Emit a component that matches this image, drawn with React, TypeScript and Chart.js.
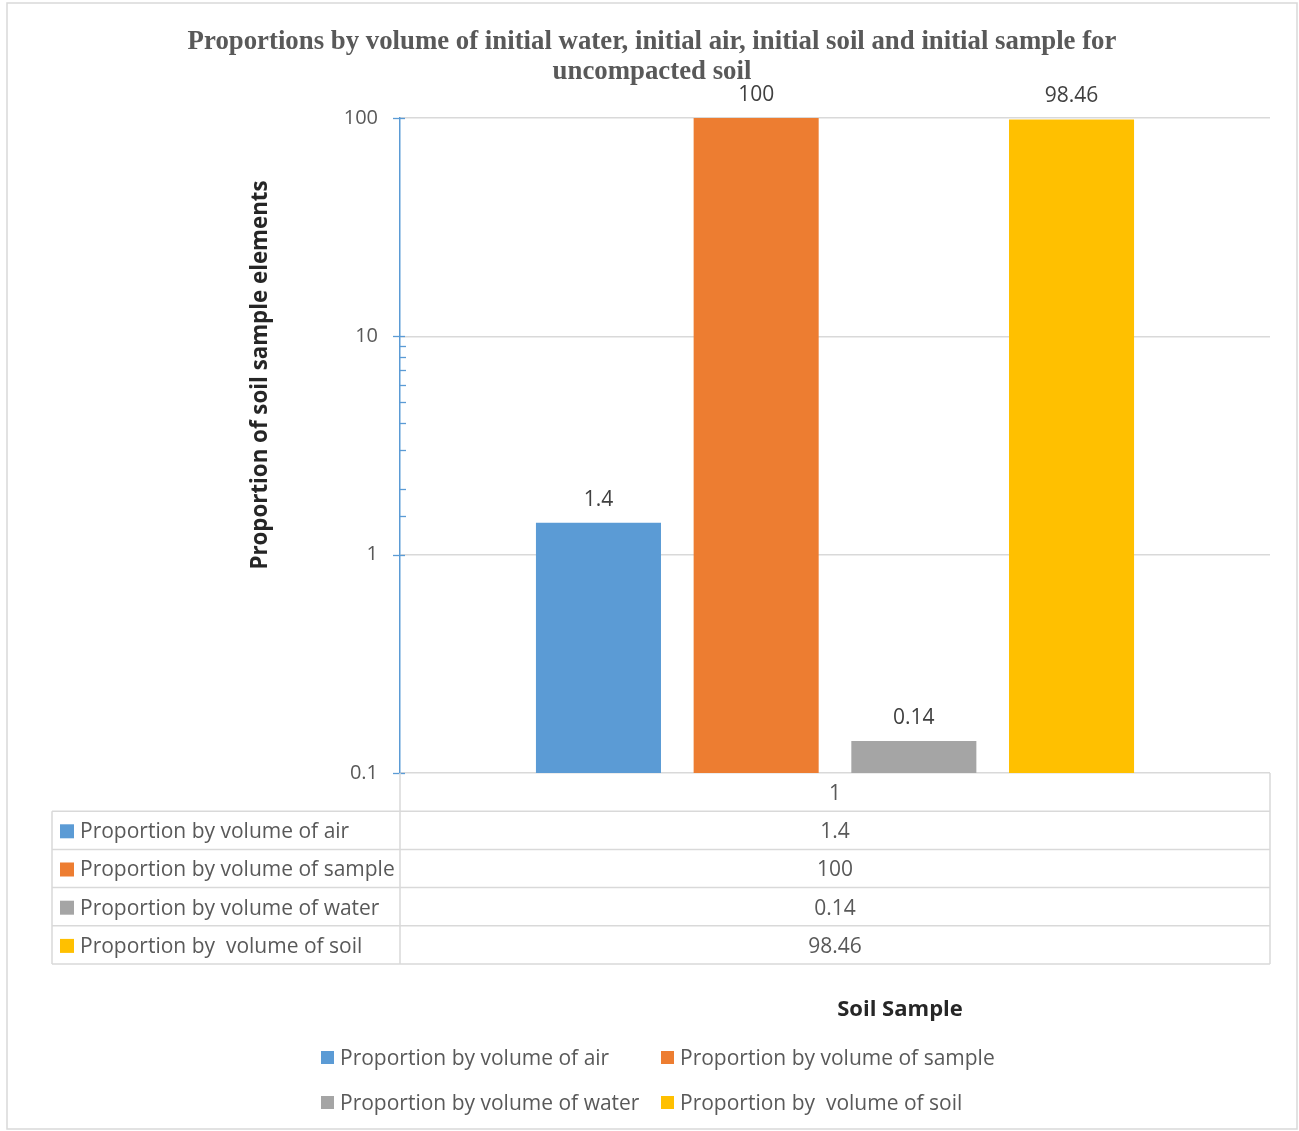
import React, { useEffect, useRef } from "react";
import { Chart, registerables } from "chart.js";

Chart.register(...registerables);

const TITLE_LINES = [
  "Proportions by volume of initial water, initial air, initial soil and initial sample for",
  "uncompacted soil",
];
const CATEGORIES = ["1"];
const SERIES_NAMES = [
  "Proportion by volume of air",
  "Proportion by volume of sample",
  "Proportion by volume of water",
  "Proportion by  volume of soil",
];
const SERIES_VALUES = [[1.4], [100], [0.14], [98.46]];
const VALUE_LABELS = ["1.4", "100", "0.14", "98.46"];
const SERIES_COLORS = ["#5B9BD5", "#ED7D31", "#A5A5A5", "#FFC000"];
const Y_TITLE = "Proportion of soil sample elements";
const X_TITLE = "Soil Sample";
const Y_MIN = 0.1;
const Y_MAX = 100;
const MINOR_TICK_RANGE = [1, 10];

const SANS = '"Open Sans", "Noto Sans", sans-serif';
const SERIF = '"Liberation Serif", "Times New Roman", serif';

const isMajor = (v: number) => {
  const l = Math.log10(v);
  return Math.abs(l - Math.round(l)) < 1e-9;
};

const decorPlugin = {
  id: "decor",
  afterDraw(chart: any) {
    const ctx = chart.ctx as CanvasRenderingContext2D;
    const area = chart.chartArea;
    const yScale = chart.scales.y;
    ctx.save();

    // outer border
    ctx.strokeStyle = "#D9D9D9";
    ctx.lineWidth = 1.5;
    ctx.strokeRect(7, 3, 1290, 1126);

    // title
    ctx.fillStyle = "#595959";
    ctx.font = `bold 26.8px ${SERIF}`;
    ctx.textAlign = "center";
    ctx.textBaseline = "middle";
    ctx.fillText(TITLE_LINES[0], 652, 42);
    ctx.fillText(TITLE_LINES[1], 652, 72);

    // y title
    ctx.save();
    ctx.translate(261, 375);
    ctx.rotate(-Math.PI / 2);
    ctx.fillStyle = "#262626";
    ctx.font = `bold 22.3px ${SANS}`;
    ctx.fillText(Y_TITLE, 0, 0);
    ctx.restore();

    // ticks on axis
    ctx.strokeStyle = "#5B9BD5";
    ctx.lineWidth = 1.3;
    yScale.ticks.forEach((t: any) => {
      const py = Math.round(yScale.getPixelForValue(t.value)) + 0.5;
      ctx.beginPath();
      if (isMajor(t.value)) {
        ctx.moveTo(area.left - 7, py);
        ctx.lineTo(area.left + 5, py);
      } else if (t.value > MINOR_TICK_RANGE[0] && t.value < MINOR_TICK_RANGE[1]) {
        ctx.moveTo(area.left, py);
        ctx.lineTo(area.left + 6, py);
      }
      ctx.stroke();
    });

    // data labels
    ctx.fillStyle = "#404040";
    ctx.font = `21px ${SANS}`;
    ctx.textBaseline = "middle";
    SERIES_VALUES.forEach((_, i) => {
      const bar = chart.getDatasetMeta(i).data[0];
      ctx.fillText(VALUE_LABELS[i], bar.x, bar.y - 23);
    });

    // data table
    const rowH = 38.2;
    const top = area.bottom;
    const left = 52;
    const mid = area.left;
    const right = area.right;
    ctx.strokeStyle = "#D9D9D9";
    ctx.lineWidth = 1.5;
    ctx.beginPath();
    ctx.moveTo(mid, top);
    ctx.lineTo(mid, top + rowH * 5);
    ctx.moveTo(right, top);
    ctx.lineTo(right, top + rowH * 5);
    for (let r = 1; r <= 5; r++) {
      ctx.moveTo(left, top + rowH * r);
      ctx.lineTo(right, top + rowH * r);
    }
    ctx.moveTo(left, top + rowH);
    ctx.lineTo(left, top + rowH * 5);
    ctx.stroke();

    ctx.fillStyle = "#595959";
    ctx.font = `21px ${SANS}`;
    ctx.textAlign = "center";
    const cx = (mid + right) / 2;
    ctx.fillText(CATEGORIES[0], cx, top + rowH * 0.5 + 2);
    SERIES_NAMES.forEach((name, i) => {
      const cy = top + rowH * (i + 1.5) + 2;
      ctx.textAlign = "center";
      ctx.fillStyle = "#595959";
      ctx.fillText(VALUE_LABELS[i], cx, cy);
      ctx.fillStyle = SERIES_COLORS[i];
      ctx.fillRect(60, cy - 8, 14, 14);
      ctx.fillStyle = "#595959";
      ctx.textAlign = "left";
      ctx.fillText(name, 80, cy);
    });

    // x title
    ctx.fillStyle = "#262626";
    ctx.font = `bold 22px ${SANS}`;
    ctx.textAlign = "center";
    ctx.fillText(X_TITLE, 900, 1010);

    // legend
    const legendPos = [
      [321, 1057],
      [661, 1057],
      [321, 1102],
      [661, 1102],
    ];
    ctx.font = `21px ${SANS}`;
    ctx.textAlign = "left";
    SERIES_NAMES.forEach((name, i) => {
      const [lx, ly] = legendPos[i];
      ctx.fillStyle = SERIES_COLORS[i];
      ctx.fillRect(lx, ly - 6, 13, 13);
      ctx.fillStyle = "#595959";
      ctx.fillText(name, lx + 19, ly + 2);
    });

    ctx.restore();
  },
};

export default function App() {
  const ref = useRef<HTMLCanvasElement | null>(null);
  useEffect(() => {
    if (!ref.current) return;
    const chart = new Chart(ref.current, {
      type: "bar",
      data: {
        labels: CATEGORIES,
        datasets: SERIES_NAMES.map((name, i) => ({
          label: name,
          data: SERIES_VALUES[i],
          backgroundColor: SERIES_COLORS[i],
          categoryPercentage: 0.725,
          barPercentage: 0.793,
        })),
      },
      options: {
        responsive: false,
        animation: false,
        devicePixelRatio: 1,
        layout: { padding: { left: 330, right: 29, top: 118, bottom: 358 } },
        plugins: {
          legend: { display: false },
          title: { display: false },
          tooltip: { enabled: false },
        },
        scales: {
          x: { display: false },
          y: {
            type: "logarithmic",
            min: Y_MIN,
            max: Y_MAX,
            afterFit: (s: any) => {
              s.width = 70;
            },
            border: { color: "#5B9BD5", width: 1.5 },
            grid: {
              drawTicks: false,
              color: (c: any) => (c.tick && isMajor(c.tick.value) ? "#D9D9D9" : "rgba(0,0,0,0)"),
              lineWidth: 1.5,
            },
            ticks: {
              padding: 22,
              color: "#595959",
              font: { family: SANS, size: 20 },
              autoSkip: false,
              callback: (v: any) => (isMajor(Number(v)) ? String(Number(Number(v).toPrecision(3))) : ""),
            },
          },
        },
      },
      plugins: [decorPlugin],
    });
    return () => chart.destroy();
  }, []);
  return (
    <div style={{ position: "absolute", left: 0, top: 0, width: 1299, height: 1131, background: "#fff" }}>
      <canvas ref={ref} width={1299} height={1131} style={{ display: "block" }} />
    </div>
  );
}
